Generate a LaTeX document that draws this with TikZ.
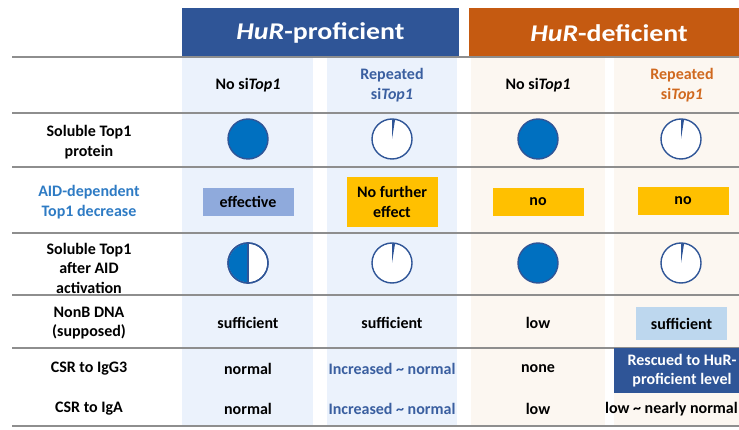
\documentclass[tikz,border=0pt]{standalone}
\usepackage{fontspec}
\setmainfont{Carlito}
\newfontfamily\headfont{Carlito}[FakeStretch=1.16]
\definecolor{headblue}{HTML}{2F5597}
\definecolor{headorange}{HTML}{C55A11}
\definecolor{colblue}{HTML}{EBF2FC}
\definecolor{colcream}{HTML}{FCF7F1}
\definecolor{rulegray}{HTML}{8E8E8E}
\definecolor{pieblue}{HTML}{0070C0}
\definecolor{pieedge}{HTML}{2F5597}
\definecolor{effblue}{HTML}{8FAADC}
\definecolor{noyellow}{HTML}{FFC000}
\definecolor{paleblue}{HTML}{BDD7EE}
\definecolor{aidblue}{HTML}{2E7BC4}
\definecolor{repblue}{HTML}{3A5FA0}
\definecolor{reporange}{HTML}{D0691F}
\begin{document}
\begin{tikzpicture}[x=1pt,y=1pt,
  txt/.style={font=\fontsize{16}{19.5}\selectfont\bfseries, align=center, inner sep=0pt},
  head/.style={font=\headfont\fontsize{24}{28}\selectfont\bfseries, text=white, inner sep=0pt},
  cellbox/.style={txt, minimum width=91pt, minimum height=28pt},
  pie/.style={circle, draw=pieedge, line width=1.4pt, minimum size=40pt, inner sep=0pt},
  hrule/.style={rulegray, line width=1.6pt}]
\useasboundingbox (0,0) rectangle (739,-430);
\clip (0,0) rectangle (739,-430);

% column backgrounds
\fill[colblue]  (182,-57) rectangle (313,-426);
\fill[colblue]  (327,-57) rectangle (457,-426);
\fill[colcream] (471,-57) rectangle (605,-426);
\fill[colcream] (614,-57) rectangle (750,-426);

% group headers
\fill[headblue]   (182,-8) rectangle (459,-56);
\fill[headorange] (469,-8) rectangle (750,-56);
\node[head] (hpro) at (320.5,-33) {\textit{HuR}-proficient};
\node[head] (hdef) at (609,-33) {\textit{HuR}-deficient};

% horizontal rules
\foreach \yy in {57,113,167,233,295,348,426}
  \draw[hrule] (12,-\yy) -- (750,-\yy);

% column headings
\node[txt] (c1h) at (248,-85) {No si\textit{Top1}};
\node[txt, text=repblue] (c2h) at (392,-85) {Repeated\\si\textit{Top1}};
\node[txt] (c3h) at (538,-85) {No si\textit{Top1}};
\node[txt, text=reporange] (c4h) at (682,-85) {Repeated\\si\textit{Top1}};

% row labels
\node[txt] (r1) at (89,-142) {Soluble Top1\\protein};
\node[txt, text=aidblue] (r2) at (89,-202) {AID-dependent\\Top1 decrease};
\node[txt] (r3) at (89,-268) {Soluble Top1\\after AID\\activation};
\node[txt] (r4) at (89,-323) {NonB DNA\\(supposed)};
\node[txt] (r5) at (89,-369) {CSR to IgG3};
\node[txt] (r6) at (89,-409) {CSR to IgA};

% row 1: soluble Top1 protein
\node[pie, fill=pieblue] (p11) at (248,-139) {};
\node[pie, fill=white]   (p12) at (392,-139) {};
\node[pie, fill=pieblue] (p13) at (538,-139) {};
\node[pie, fill=white]   (p14) at (681,-139) {};

% row 3: soluble Top1 after AID activation
\node[pie, fill=white]   (p31) at (248,-263) {};
\node[pie, fill=white]   (p32) at (392,-263) {};
\node[pie, fill=pieblue] (p33) at (538,-263) {};
\node[pie, fill=white]   (p34) at (681,-263) {};

% thin remaining slivers
\foreach \p in {p12,p14,p32,p34}
  \fill[pieedge] (\p.center) -- ++(90:19.3) arc[start angle=90, end angle=81, radius=19.3] -- cycle;
% half-filled
\fill[pieblue] (p31.center) -- ++(90:19.3) arc[start angle=90, end angle=270, radius=19.3] -- cycle;
\draw[pieedge, line width=1.2pt] (p31.north) -- (p31.south);
\node[pie] at (p31.center) {};

% row 2: AID-dependent decrease
\node[cellbox, fill=effblue] (b21) at (248,-202) {effective};
\node[cellbox, fill=noyellow, minimum height=50pt] (b22) at (392,-202) {No further\\effect};
\node[cellbox, fill=noyellow] (b23) at (538,-202) {no};
\node[cellbox, fill=noyellow] (b24) at (683,-201) {no};

% row 4: NonB DNA
\node[txt] (t41) at (248,-323) {sufficient};
\node[txt] (t42) at (392,-323) {sufficient};
\node[txt] (t43) at (538,-323) {low};
\node[cellbox, fill=paleblue, minimum height=33pt] (b44) at (681.5,-323.5) {sufficient};

% row 5: CSR to IgG3
\node[txt] (t51) at (248,-369) {normal};
\node[txt, text=repblue] (t52) at (392,-369) {Increased \textasciitilde{} normal};
\node[txt] (t53) at (538,-369) {none};
\node[txt, fill=headblue, text=white, minimum width=136pt, minimum height=45pt] (b54) at (682,-370.5) {Rescued to HuR-\\proficient level};

% row 6: CSR to IgA
\node[txt] (t61) at (248,-409) {normal};
\node[txt, text=repblue] (t62) at (392,-409) {Increased \textasciitilde{} normal};
\node[txt] (t63) at (538,-409) {low};
\node[txt, anchor=east] (t64) at (738,-409) {low \textasciitilde{} nearly normal};
\end{tikzpicture}
\end{document}
